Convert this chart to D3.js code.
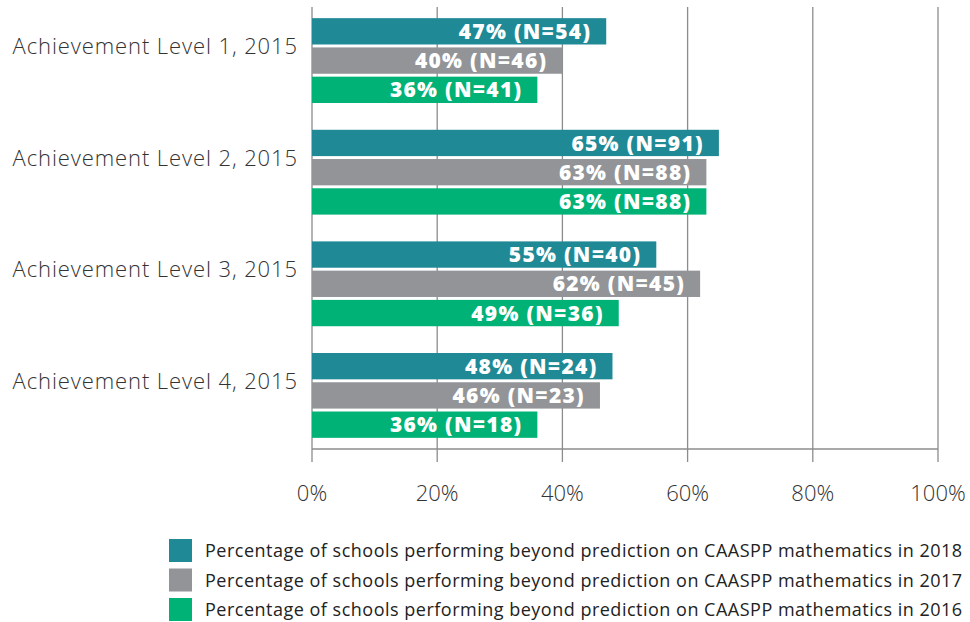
<!DOCTYPE html>
<html>
<head>
<meta charset="utf-8">
<script src="https://cdn.jsdelivr.net/npm/d3@7"></script>
<style>
  body { margin: 0; background: #fff; }
  svg { display: block; }
</style>
</head>
<body>
<div id="chart"></div>
<script>
// categories and series
var categories = ["Achievement Level 1, 2015", "Achievement Level 2, 2015",
                  "Achievement Level 3, 2015", "Achievement Level 4, 2015"];
var seriesNames = [
  "Percentage of schools performing beyond prediction on CAASPP mathematics in 2018",
  "Percentage of schools performing beyond prediction on CAASPP mathematics in 2017",
  "Percentage of schools performing beyond prediction on CAASPP mathematics in 2016"
];
var pct2018 = [47, 65, 55, 48];
var n2018 = [54, 91, 40, 24];
var pct2017 = [40, 63, 62, 46];
var n2017 = [46, 88, 45, 23];
var pct2016 = [36, 63, 49, 36];
var n2016 = [41, 88, 36, 18];
var tickValues = [0, 20, 40, 60, 80, 100];
var colors = ["#1f8995", "#929497", "#00b276"];

var pctSeries = [pct2018, pct2017, pct2016];
var nSeries = [n2018, n2017, n2016];

var width = 970, height = 622;
var svg = d3.select("#chart").append("svg")
    .attr("width", width).attr("height", height);

var x = d3.scaleLinear().domain([0, 100]).range([312, 938]);
var y = d3.scaleBand().domain(categories).range([7, 449])
    .paddingInner(0.24).paddingOuter(0.1);
var ySub = d3.scaleBand().domain([0, 1, 2]).range([0, y.bandwidth()])
    .paddingInner(0.1);

// gridlines
svg.append("g").selectAll("line")
  .data(tickValues)
  .enter().append("line")
    .attr("x1", function(d) { return x(d); })
    .attr("x2", function(d) { return x(d); })
    .attr("y1", 7).attr("y2", 462)
    .attr("stroke", "#8c8c8c").attr("stroke-width", 1.3);

// axis line
svg.append("line")
  .attr("x1", x(0)).attr("x2", x(100))
  .attr("y1", 449).attr("y2", 449)
  .attr("stroke", "#8c8c8c").attr("stroke-width", 1.3);

// tick labels
svg.append("g").selectAll("text")
  .data(tickValues)
  .enter().append("text")
    .attr("x", function(d) { return x(d); })
    .attr("y", 493)
    .attr("dy", "0.35em")
    .attr("text-anchor", "middle")
    .style("font-family", "'Open Sans'")
    .style("font-weight", 300)
    .style("font-size", "22px")
    .attr("fill", "#333")
    .text(function(d) { return d + "%"; });

// category labels
svg.append("g").selectAll("text")
  .data(categories)
  .enter().append("text")
    .attr("x", 298)
    .attr("y", function(d) { return y(d) + ySub(0) + ySub.bandwidth() + 2; })
    .attr("dy", "0.35em")
    .attr("text-anchor", "end")
    .style("font-family", "'Open Sans'")
    .style("font-weight", 300)
    .style("font-size", "22px")
    .style("letter-spacing", "0.9px")
    .attr("fill", "#333")
    .text(function(d) { return d; });

// bars
pctSeries.forEach(function(vals, s) {
  var g = svg.append("g");
  g.selectAll("rect")
    .data(vals)
    .enter().append("rect")
      .attr("x", x(0))
      .attr("y", function(d, i) { return y(categories[i]) + ySub(s); })
      .attr("width", function(d) { return x(d) - x(0); })
      .attr("height", ySub.bandwidth())
      .attr("fill", colors[s]);
  g.selectAll("text")
    .data(vals)
    .enter().append("text")
      .attr("x", function(d) { return x(d) - 15; })
      .attr("y", function(d, i) { return y(categories[i]) + ySub(s) + ySub.bandwidth() / 2; })
      .attr("dy", "0.36em")
      .attr("text-anchor", "end")
      .style("font-family", "'Open Sans'")
      .style("font-weight", 800)
      .style("font-size", "21px")
      .style("letter-spacing", "1.3px")
      .attr("fill", "#fff")
      .text(function(d, i) { return d + "% (N=" + nSeries[s][i] + ")"; });
});

// legend
var legend = svg.append("g").selectAll("g")
  .data(seriesNames)
  .enter().append("g")
    .attr("transform", function(d, i) { return "translate(169," + (539 + i * 29.5) + ")"; });
legend.append("rect")
  .attr("width", 23).attr("height", 23)
  .attr("fill", function(d, i) { return colors[i]; });
legend.append("text")
  .attr("x", 36).attr("y", 12)
  .attr("dy", "0.35em")
  .style("font-family", "'Open Sans'")
  .style("font-weight", 400)
  .style("font-size", "18px")
  .style("letter-spacing", "0.5px")
  .attr("fill", "#222")
  .text(function(d) { return d; });
</script>
</body>
</html>
